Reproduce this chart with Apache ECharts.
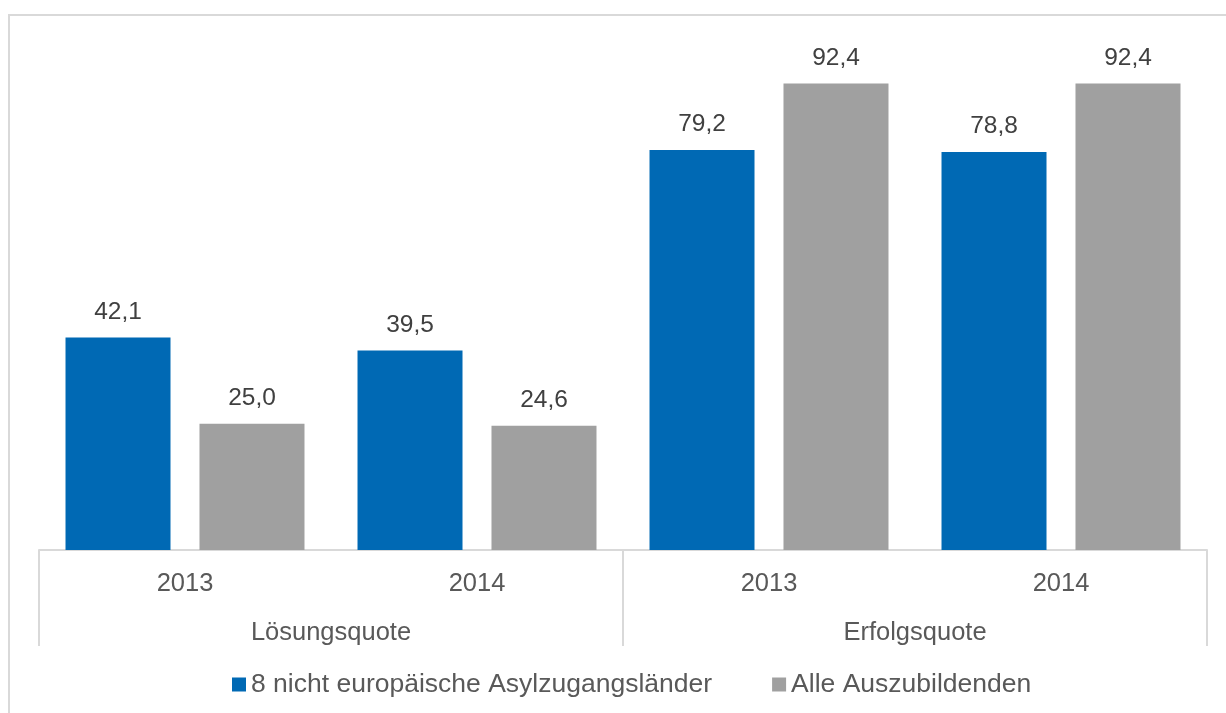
<!DOCTYPE html>
<html>
<head>
<meta charset="utf-8">
<script src="https://cdn.jsdelivr.net/npm/echarts@6/dist/echarts.min.js"></script>
<style>
  html, body { margin: 0; padding: 0; background: #ffffff; }
  #chart { width: 1226px; height: 713px; }
</style>
</head>
<body>
<div id="chart"></div>
<script>
// Jahre (untere Ebene) und Kennzahlen (obere Ebene) der Kategorieachse
const years = ['2013', '2014', '2013', '2014'];
const groups = ['Lösungsquote', 'Erfolgsquote'];

// Werte in Prozent
const seriesNames = ['8 nicht europäische Asylzugangsländer', 'Alle Auszubildenden'];
const asylValues = [42.1, 39.5, 79.2, 78.8];
const alleValues = [25.0, 24.6, 92.4, 92.4];

const fontFamily = '"Liberation Sans", Arial, Helvetica, sans-serif';
const fmt = p => p.value.toFixed(1).replace('.', ',');

const chart = echarts.init(document.getElementById('chart'));

chart.setOption({
  animation: false,
  textStyle: { fontFamily: fontFamily },
  graphic: [{
    type: 'rect',
    shape: { x: 9, y: 15, width: 1400, height: 900 },
    style: { fill: 'none', stroke: '#d9d9d9', lineWidth: 2 },
    silent: true
  }],
  grid: { left: 39, right: 19, top: 45, bottom: 163 },
  legend: {
    top: 666,
    left: 227,
    itemWidth: 14,
    itemHeight: 14,
    itemGap: 60,
    icon: 'rect',
    textStyle: { fontSize: 26.5, color: '#595959', fontFamily: fontFamily },
    data: seriesNames
  },
  xAxis: [
    {
      type: 'category',
      data: years,
      axisLine: { show: true, lineStyle: { color: '#d9d9d9', width: 2 } },
      axisTick: { show: false },
      axisLabel: { fontSize: 25.5, color: '#595959', margin: 21 }
    },
    {
      type: 'category',
      data: groups,
      position: 'bottom',
      axisLine: { show: false },
      axisTick: { show: true, length: 96, lineStyle: { color: '#d9d9d9', width: 2 } },
      axisLabel: { fontSize: 25.5, color: '#595959', margin: 70 }
    }
  ],
  yAxis: {
    type: 'value',
    min: 0,
    max: 100,
    show: false,
    splitLine: { show: false }
  },
  series: [
    {
      name: seriesNames[0],
      type: 'bar',
      xAxisIndex: 0,
      data: asylValues,
      barWidth: 105,
      barGap: '27.6%',
      itemStyle: { color: '#0069b4' },
      label: { show: true, position: 'top', distance: 13, fontSize: 24.5, color: '#404040', formatter: fmt }
    },
    {
      name: seriesNames[1],
      type: 'bar',
      xAxisIndex: 0,
      data: alleValues,
      barWidth: 105,
      barGap: '27.6%',
      itemStyle: { color: '#a0a0a0' },
      label: { show: true, position: 'top', distance: 13, fontSize: 24.5, color: '#404040', formatter: fmt }
    }
  ]
});
</script>
</body>
</html>
